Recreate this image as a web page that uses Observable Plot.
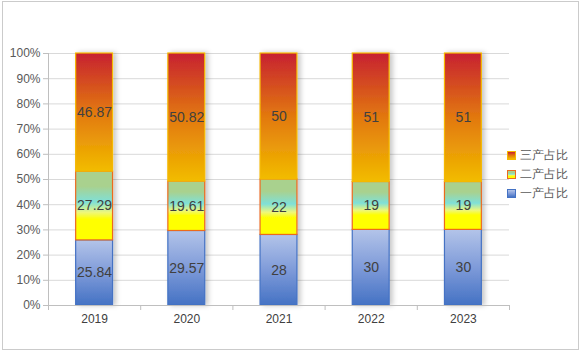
<!DOCTYPE html>
<html>
<head>
<meta charset="utf-8">
<script src="https://cdn.jsdelivr.net/npm/d3@7"></script>
<script src="https://cdn.jsdelivr.net/npm/@observablehq/plot@0.6"></script>
<style>
  html, body { margin: 0; padding: 0; background: #fff; }
  #wrap { position: relative; width: 585px; height: 353px; overflow: hidden; font-family: "Liberation Sans", Arial, sans-serif; }
  #frame { position: absolute; left: 2px; top: 1px; width: 575px; height: 347px; border: 1px solid #cbcbcb; pointer-events: none; }
  #legend { position: absolute; left: 507px; top: 146px; font-size: 12px; color: #595959; }
  .item { display: flex; align-items: center; height: 19px; }
  .sw { width: 7px; height: 7px; margin-right: 4px; box-sizing: content-box; }
</style>
</head>
<body>
<div id="wrap"><div id="chart"></div><div id="legend"></div><div id="frame"></div></div>
<script>
// ---- data ----
const years = ["2019", "2020", "2021", "2022", "2023"];
const seriesNames = ["一产占比", "二产占比", "三产占比"];
const primary = [25.84, 29.57, 28, 30, 30];
const secondary = [27.29, 19.61, 22, 19, 19];
const tertiary = [46.87, 50.82, 50, 51, 51];
const yTicks = [0, 10, 20, 30, 40, 50, 60, 70, 80, 90, 100];

// ---- styles ----
const gradients = [
  { id: "g0", stops: [[0, "#b3c4e9"], [0.5, "#7f9bd9"], [1, "#4472c4"]] },
  { id: "g1", stops: [[0, "#a9d18e"], [0.22, "#a9d18e"], [0.45, "#7fe0d8"], [0.6, "#eef77a"], [0.7, "#ffff00"], [1, "#ffff00"]] },
  { id: "g2", stops: [[0, "#c72131"], [0.5, "#e2780f"], [1, "#f2bc00"]] }
];
const strokes = ["#4472c4", "#ec6a1f", "#f5b800"];

// ---- table ----
const seriesValues = [primary, secondary, tertiary];
const rows = [];
years.forEach((yr, i) => {
  let acc = 0;
  seriesValues.forEach((vals, s) => {
    const v = vals[i];
    rows.push({ year: yr, idx: i, s, series: seriesNames[s], value: v, y1: acc, y2: acc + v });
    acc += v;
  });
});

const chart = Plot.plot({
  width: 585,
  height: 353,
  marginLeft: 48,
  marginRight: 76,
  marginTop: 53,
  marginBottom: 48,
  style: { fontFamily: "Liberation Sans, Arial, sans-serif", fontSize: "12px", background: "transparent", overflow: "visible" },
  x: { type: "linear", domain: [0, years.length], axis: null },
  y: { domain: [0, 100], axis: null },
  marks: [
    Plot.ruleY(yTicks.filter(d => d > 0), { stroke: "#d9d9d9", strokeWidth: 1 }),
    Plot.rectY(rows, {
      x1: d => d.idx + 0.3,
      x2: d => d.idx + 0.7,
      y1: "y1",
      y2: "y2",
      fill: d => `url(#${gradients[d.s].id})`,
      stroke: d => strokes[d.s],
      strokeWidth: 1.2
    }),
    Plot.text(rows, {
      x: d => d.idx + 0.5,
      y: d => (d.y1 + d.y2) / 2,
      text: d => String(d.value),
      fill: "#404040",
      fontSize: 14
    }),
    Plot.ruleX([0], { stroke: "#bfbfbf" }),
    Plot.ruleY([0], { stroke: "#bfbfbf" }),
    Plot.axisY({ ticks: yTicks, tickFormat: d => d + "%", tickSize: 5, tickPadding: 3, stroke: "#bfbfbf", fill: "#595959", fontSize: 12 }),
    Plot.axisX({ ticks: d3.range(0, years.length + 1), tickFormat: () => "", tickSize: 5, stroke: "#bfbfbf" }),
    Plot.axisX({ ticks: years.map((_, i) => i + 0.5), tickFormat: d => years[Math.round(d - 0.5)], tickSize: 0, tickPadding: 9, fill: "#404040", fontSize: 12 })
  ]
});

// gradient + shadow defs
const svg = d3.select(chart);
const defs = svg.insert("defs", ":first-child");
gradients.forEach(g => {
  const lg = defs.append("linearGradient").attr("id", g.id).attr("x1", 0).attr("y1", 0).attr("x2", 0).attr("y2", 1);
  g.stops.forEach(([o, c]) => lg.append("stop").attr("offset", o).attr("stop-color", c));
});
const f = defs.append("filter").attr("id", "shadow").attr("x", "-20%").attr("y", "-5%").attr("width", "160%").attr("height", "110%");
f.append("feDropShadow").attr("dx", 3).attr("dy", 0).attr("stdDeviation", 2.5).attr("flood-color", "#000").attr("flood-opacity", 0.22);
svg.selectAll("g[aria-label='rect']").attr("filter", "url(#shadow)");

document.getElementById("chart").appendChild(chart);

// legend (top to bottom: reversed series order)
const legend = d3.select("#legend");
[2, 1, 0].forEach(s => {
  const it = legend.append("div").attr("class", "item");
  const stops = gradients[s].stops.map(([o, c]) => `${c} ${o * 100}%`).join(", ");
  it.append("div").attr("class", "sw")
    .style("background", `linear-gradient(to bottom, ${stops})`)
    .style("border", `1px solid ${strokes[s]}`);
  it.append("span").text(seriesNames[s]);
});
</script>
</body>
</html>
